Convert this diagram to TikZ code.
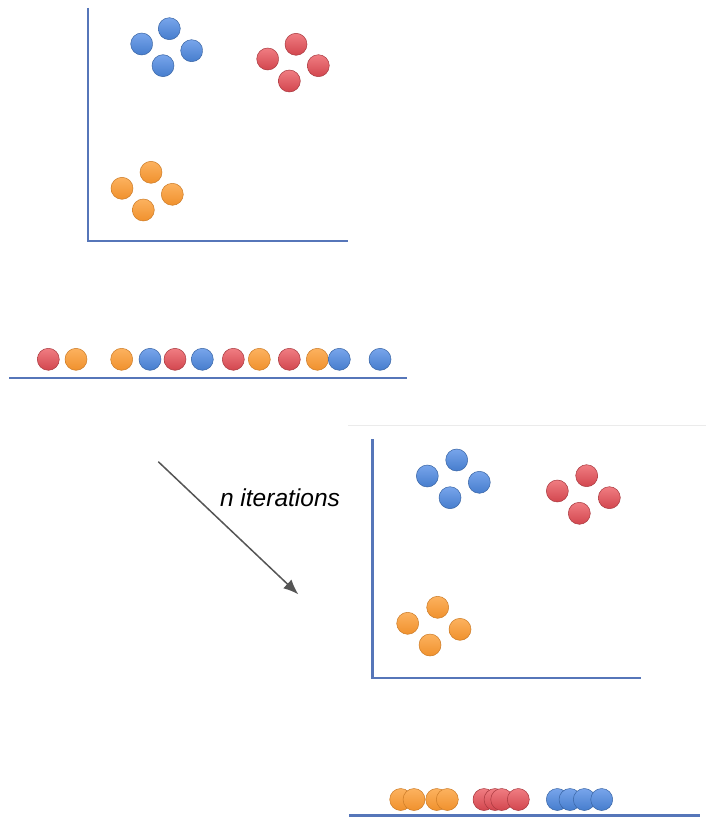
\documentclass[tikz,border=0pt]{standalone}
\usepackage{fontspec}
\setmainfont{Liberation Sans}
\begin{document}
\begin{tikzpicture}[x=1pt,y=-1pt,
  axis/.style={draw=axisblue,line width=2.8pt},
  dot/.style={circle,inner sep=0pt,minimum size=22pt,line width=0.5pt},
  bdot/.style={dot,top color=blueT,bottom color=blueB,draw=blueB!80!black},
  rdot/.style={dot,top color=redT,bottom color=redB,draw=redB!80!black},
  odot/.style={dot,top color=orT,bottom color=orB,draw=orB!85!black},
  iterarrow/.style={draw=arrgray,line width=1.5pt,-{Latex[length=15pt,width=12pt]}}]
\usetikzlibrary{arrows.meta}
\definecolor{axisblue}{RGB}{86,118,185}
\definecolor{blueT}{RGB}{120,165,235}
\definecolor{blueB}{RGB}{70,125,205}
\definecolor{redT}{RGB}{240,125,130}
\definecolor{redB}{RGB}{210,70,78}
\definecolor{orT}{RGB}{252,178,95}
\definecolor{orB}{RGB}{240,145,45}
\definecolor{arrgray}{RGB}{85,85,85}
\useasboundingbox[fill=white] (0,0) rectangle (706,818);

% panel 1 axes
\coordinate (a1top) at (88,8);
\coordinate (a1o) at (88,241);
\coordinate (a1r) at (348,241);
\draw[axis] (a1top) -- (a1o) -- (a1r);

\node[bdot] (p1b1) at (141.7,44) {};
\node[bdot] (p1b2) at (169.3,28.7) {};
\node[bdot] (p1b3) at (191.7,50.7) {};
\node[bdot] (p1b4) at (163,65.7) {};
\node[rdot] (p1r1) at (267.7,59) {};
\node[rdot] (p1r2) at (296,44.3) {};
\node[rdot] (p1r3) at (318.3,65.7) {};
\node[rdot] (p1r4) at (289.3,81) {};
\node[odot] (p1o1) at (122,188.3) {};
\node[odot] (p1o2) at (151,172.3) {};
\node[odot] (p1o3) at (172.3,194.3) {};
\node[odot] (p1o4) at (143.3,210) {};

% row 1
\coordinate (l1a) at (9.3,378);
\coordinate (l1b) at (407,378);
\draw[axis,line width=2.2pt] (l1a) -- (l1b);
\node[rdot] (q1) at (48.3,359.3) {};
\node[odot] (q2) at (76,359.3) {};
\node[odot] (q3) at (121.7,359.3) {};
\node[bdot] (q4) at (150,359.3) {};
\node[rdot] (q5) at (175,359.3) {};
\node[bdot] (q6) at (202.3,359.3) {};
\node[rdot] (q7) at (233.3,359.3) {};
\node[odot] (q8) at (259.3,359.3) {};
\node[rdot] (q9) at (289.3,359.3) {};
\node[odot] (q10) at (317.3,359.3) {};
\node[bdot] (q11) at (339.3,359.3) {};
\node[bdot] (q12) at (380,359.3) {};

% arrow
\coordinate (arS) at (158.3,461.7);
\coordinate (arE) at (298.3,594.3);
\draw[iterarrow] (arS) -- (arE);
\node[font=\fontsize{24.5}{28}\selectfont\itshape,anchor=center] (iter) at (280,498) {n iterations};

% panel 2 frame line (faint)
\coordinate (f2a) at (348,425);
\coordinate (f2b) at (706,425);
\draw[black!8,line width=0.8pt] (f2a) -- (f2b);

% panel 2 axes
\coordinate (a2top) at (372.7,439.3);
\coordinate (a2o) at (372.7,678);
\coordinate (a2r) at (641,678);
\draw[axis] (a2top) -- (a2o) -- (a2r);

\node[bdot] (p2b1) at (427.3,476) {};
\node[bdot] (p2b2) at (456.7,460) {};
\node[bdot] (p2b3) at (479.3,482.3) {};
\node[bdot] (p2b4) at (450,497.7) {};
\node[rdot] (p2r1) at (557.3,491) {};
\node[rdot] (p2r2) at (586.7,475.7) {};
\node[rdot] (p2r3) at (609.3,497.7) {};
\node[rdot] (p2r4) at (579.3,513.3) {};
\node[odot] (p2o1) at (407.7,623.3) {};
\node[odot] (p2o2) at (437.7,607.3) {};
\node[odot] (p2o3) at (460,629.3) {};
\node[odot] (p2o4) at (430,645) {};

% row 2
\coordinate (l2a) at (349.3,815.5);
\coordinate (l2b) at (700,815.5);
\draw[axis,line width=2.2pt] (l2a) -- (l2b);
\node[odot] (s1) at (400.7,799.5) {};
\node[odot] (s2) at (414,799.5) {};
\node[odot] (s3) at (436.7,799.5) {};
\node[odot] (s4) at (447.3,799.5) {};
\node[rdot] (s5) at (484,799.5) {};
\node[rdot] (s6) at (495,799.5) {};
\node[rdot] (s7) at (501.7,799.5) {};
\node[rdot] (s8) at (518.3,799.5) {};
\node[bdot] (s9) at (557.3,799.5) {};
\node[bdot] (s10) at (570,799.5) {};
\node[bdot] (s11) at (584.3,799.5) {};
\node[bdot] (s12) at (601.7,799.5) {};
\end{tikzpicture}
\end{document}
